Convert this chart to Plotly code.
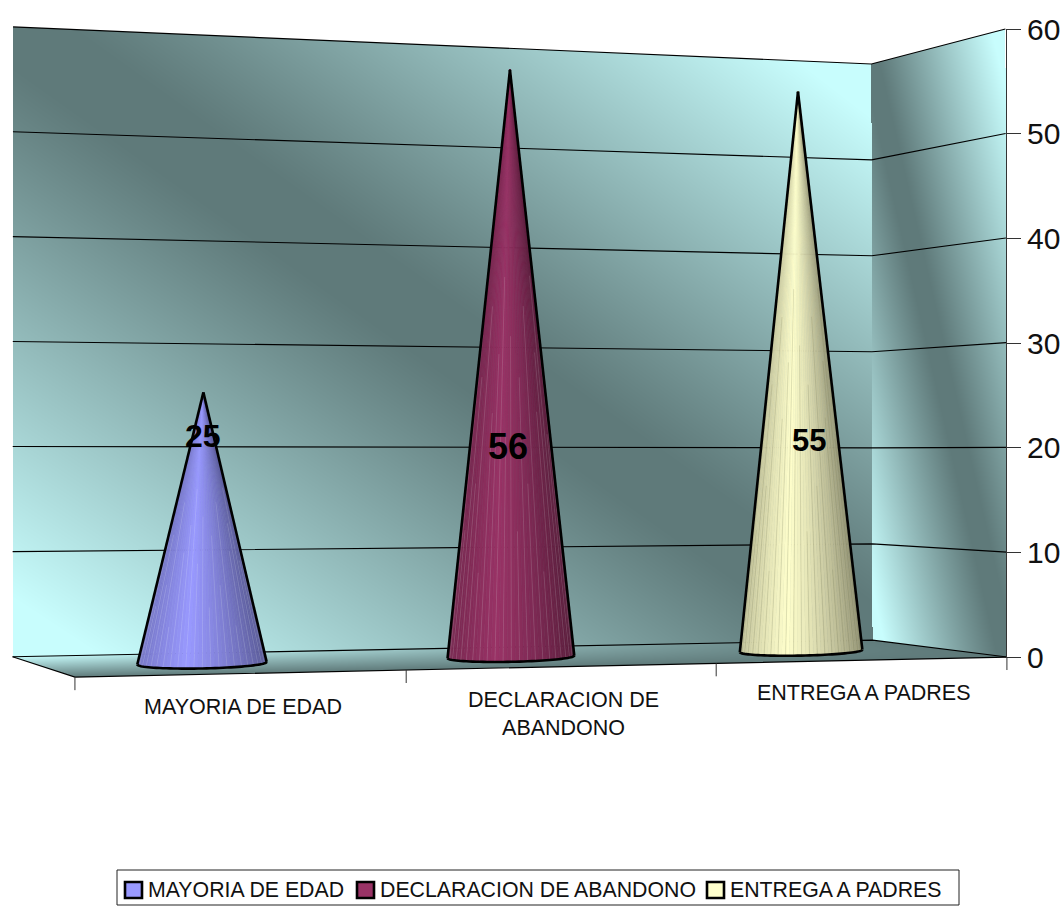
import numpy as np
import plotly.graph_objects as go

# ---- data ----
categories = ["MAYORIA DE EDAD", "DECLARACION DE ABANDONO", "ENTREGA A PADRES"]
axis_labels = ["MAYORIA DE EDAD", "DECLARACION DE<br>ABANDONO", "ENTREGA A PADRES"]
values = [25, 56, 55]
y_ticks = [0, 10, 20, 30, 40, 50, 60]

# ---- style ----
series_colors = [(153, 153, 255), (153, 51, 102), (255, 255, 204)]
facet_lines = ["rgba(255,255,255,0.13)", "rgba(255,255,255,0.13)", "rgba(110,110,70,0.18)"]
WALL_DARK = "#5f7a7a"
WALL_LIGHT = "#c8fdfd"
W, H = 1064, 906
FONT = "Liberation Sans, Arial, sans-serif"
VMAX = 60.0

# ---- camera: calibrates the chart frame (u across, v value, d depth; d=1 is the back wall) ----
frame = [
    (0, 0, 1, 12, 657), (1, 0, 1, 873, 640), (0, 60, 1, 13, 27), (1, 60, 1, 871, 64),
    (0, 50, 1, 13, 132), (1, 50, 1, 871, 160), (0, 10, 1, 13, 551), (1, 10, 1, 873, 544),
    (0, 0, 0, 75, 677), (1, 0, 0, 1006, 657), (1, 60, 0, 1006, 29), (1, 50, 0, 1006, 133),
    (1, 10, 0, 1006, 552), (1 / 3, 0, 0, 406, 670), (2 / 3, 0, 0, 717, 664),
]
A, b = [], []
for u, v, d, x, y in frame:
    X = [u, v / VMAX, d, 1]
    A.append(X + [0, 0, 0, 0] + [-x * c for c in X[:3]])
    b.append(x)
    A.append([0, 0, 0, 0] + X + [-y * c for c in X[:3]])
    b.append(y)
sol = np.linalg.lstsq(np.array(A, float), np.array(b, float), rcond=None)[0]
P = np.append(sol, 1).reshape(3, 4)


def project(u, v, d):
    u, v, d = np.broadcast_arrays(np.asarray(u, float), np.asarray(v, float) / VMAX, np.asarray(d, float))
    X = np.stack([u, v, d, np.ones_like(u)])
    q = P @ X.reshape(4, -1)
    return (q[0] / q[2]).reshape(u.shape), (q[1] / q[2]).reshape(u.shape)


# ---- wall gradient (a style only) ----
gx, gy = np.meshgrid(np.arange(W) + 0.5, np.arange(H) + 0.5)
pix = np.stack([gx.ravel(), gy.ravel(), np.ones(gx.size)])


def plane(c0, c1, fixed):
    """Inverse map from pixels onto a world plane; returns both free coordinates."""
    col3 = P[:, 3] + P[:, fixed[0]] * fixed[1]
    Hm = np.stack([P[:, c0], P[:, c1], col3], axis=1)
    q = np.linalg.inv(Hm) @ pix
    return (q[0] / q[2]).reshape(gx.shape), (q[1] / q[2]).reshape(gx.shape)


def ramp(delta):
    return np.clip((np.sqrt(delta ** 2 + 0.004) - 0.09) * 1.22, 0, 1)


tone = np.full(gx.shape, np.nan)
u_b, v_b = plane(0, 1, (2, 1.0))
m = (u_b >= 0) & (u_b <= 1) & (v_b >= 0) & (v_b <= 1)
tone[m] = ramp(u_b - (1 - v_b))[m]
d_r, v_r = plane(2, 1, (0, 1.0))
m = (d_r >= 0) & (d_r <= 1) & (v_r >= 0) & (v_r <= 1)
tone[m] = ramp((1 - d_r) - (1 - v_r))[m]
u_f, d_f = plane(0, 2, (1, 0.0))
m = (u_f >= 0) & (u_f <= 1) & (d_f >= 0) & (d_f <= 1)
tone[m] = (d_f * (1 - u_f))[m]

fig = go.Figure()
fig.add_trace(go.Heatmap(
    z=tone, x0=0.5, dx=1, y0=0.5, dy=1, zmin=0, zmax=1, showscale=False, hoverinfo="skip",
    colorscale=[[0, WALL_DARK], [1, WALL_LIGHT]],
))


def line(xs, ys, color="black", width=1.0):
    fig.add_trace(go.Scatter(x=list(map(float, xs)), y=list(map(float, ys)), mode="lines",
                             line=dict(color=color, width=width, simplify=False),
                             hoverinfo="skip", showlegend=False))


# gridlines along back and side walls
for t in y_ticks:
    x, y = project([0, 1, 1], [t, t, t], [1, 1, 0])
    line(x, y, width=1.1)
# floor edges
x, y = project([0, 0, 1], [0, 0, 0], [1, 0, 0])
line(x, y, width=1.2)
# category ticks on the front edge
for k in range(len(categories) + 1):
    x, y = project(k / len(categories), 0, 0)
    line([float(x), float(x)], [float(y), float(y) + 13], color="#333333", width=1)

# ---- cones ----
RU = [0.068, 0.071, 0.073]
BASE_SHIFT = [-0.001, 0.001, 0.003]
RD = 0.26
DC = 0.5
N = 48
starts = [0.35, 0.62, 0.45, 0.78, 0.52, 0.7, 0.4, 0.85, 0.58, 0.48]
for i, (val, col) in enumerate(zip(values, series_colors)):
    uc = (i + 0.5) / len(values)
    th = np.linspace(0, np.pi, N + 1)
    bu = uc + BASE_SHIFT[i] - RU[i] * np.cos(th)
    bx, by = project(bu, 0, DC)
    _, cy = project(uc, 0, DC)
    _, fy = project(uc, 0, DC - RD)
    by = by + (fy - cy) * np.sin(th)      # front half of the base, kept square to the viewer
    ax, ay = project(uc, val, DC)
    ax, ay = float(ax), float(ay)
    for j in range(N):
        w = (j + 0.5) / N
        w = (1 - np.cos(np.pi * w)) / 2
        s = 1 - 0.30 * abs(w - 0.38) / 0.62 - 0.10 * (abs(w - 0.38) / 0.62) ** 2
        c = "rgb(%d,%d,%d)" % tuple(int(q * s) for q in col)
        fig.add_trace(go.Scatter(
            x=[ax, float(bx[j]), float(bx[j + 1]), ax], y=[ay, float(by[j]), float(by[j + 1]), ay],
            mode="lines", fill="toself", fillcolor=c, line=dict(color=c, width=0.6, simplify=False),
            hoverinfo="skip", showlegend=False))
    for j in range(0, N + 1, 2):
        f = starts[(j // 2) % len(starts)]
        line([ax + (bx[j] - ax) * f, bx[j]], [ay + (by[j] - ay) * f, by[j]], color=facet_lines[i], width=1)
    line(bx, by, width=2.6)
    line([ax, bx[0]], [ay, by[0]], width=2.6)
    line([ax, bx[-1]], [ay, by[-1]], width=2.6)

annotations = []
# value labels inside the cones
label_level = [21.0, 20.0, 20.7]
label_shift = [0, -2, 10]
label_size = [32, 36, 31]
for i, val in enumerate(values):
    x, y = project((i + 0.5) / len(values), label_level[i], DC)
    annotations.append(dict(x=float(x) + label_shift[i], y=float(y), text="<b>%d</b>" % val, showarrow=False,
                            font=dict(size=label_size[i], color="black", family=FONT)))
# category labels under the front edge
for i, lab in enumerate(axis_labels):
    x, y = project((i + 0.5) / len(values), 0, 0)
    annotations.append(dict(x=float(x), y=float(y) + 19, yanchor="top", text=lab, showarrow=False,
                            font=dict(size=21.5, color="#111111", family=FONT), align="center"))

# ---- legend ----
LEG_X = [125, 357, 707]
LEG_Y = 890
shapes = [dict(type="rect", xref="x", yref="y", x0=117, x1=959, y0=870, y1=905,
               line=dict(color="#222222", width=1), layer="below")]
for i, name in enumerate(categories):
    shapes.append(dict(type="rect", xref="x", yref="y", x0=LEG_X[i], x1=LEG_X[i] + 17,
                       y0=LEG_Y - 8, y1=LEG_Y + 8,
                       fillcolor="rgb(%d,%d,%d)" % series_colors[i], line=dict(color="black", width=2.6)))
    annotations.append(dict(x=LEG_X[i] + 21, y=LEG_Y, xanchor="left", text=name, showarrow=False,
                            font=dict(size=21.3, color="#111111", family=FONT)))

# axis carrier for the value ticks on the right edge of the side wall
fig.add_trace(go.Scatter(x=[0, 1, 2], y=values, xaxis="x2", yaxis="y2", mode="none", hoverinfo="skip", showlegend=False))

fig.update_layout(
    width=W, height=H, margin=dict(l=0, r=0, t=0, b=0), paper_bgcolor="white", plot_bgcolor="rgba(0,0,0,0)",
    showlegend=False, annotations=annotations, shapes=shapes,
    xaxis=dict(range=[0, W], domain=[0, 1], visible=False, fixedrange=True, automargin=False),
    yaxis=dict(range=[H, 0], domain=[0, 1], visible=False, fixedrange=True, automargin=False),
    xaxis2=dict(domain=[0.5, 1006 / W], anchor="y2", range=[0, 2], visible=False, automargin=False),
    yaxis2=dict(domain=[(H - 657) / H, (H - 29) / H], anchor="x2", side="right", range=[0, VMAX],
                tickvals=y_ticks, ticks="outside", ticklen=14, tickcolor="#333333", tickwidth=1,
                showline=True, linecolor="#333333", linewidth=1, showgrid=False, zeroline=False,
                automargin=False, tickfont=dict(size=30, color="#111111", family=FONT)),
)
fig.write_html("out.html", config=dict(displayModeBar=False),
               post_script="document.body.style.margin='0';")
